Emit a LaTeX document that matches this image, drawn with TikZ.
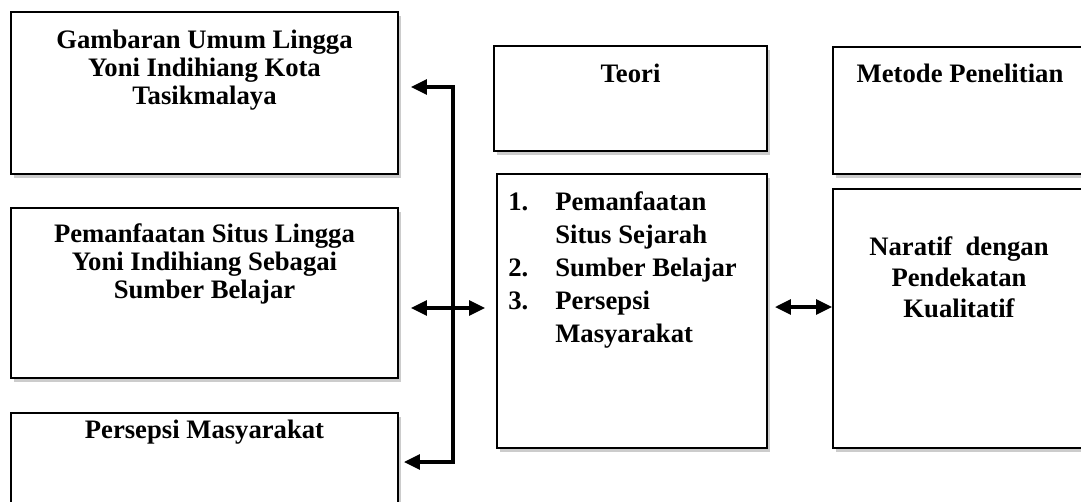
\documentclass[tikz,border=0pt]{standalone}
\usepackage{fontspec}
\setmainfont{Liberation Serif}
\usetikzlibrary{arrows.meta,shadows}
\colorlet{box edge}{black}
\colorlet{box shadow}{black!40}
\tikzset{box/.style={rectangle, draw=box edge, line width=1.4pt, fill=white,
        drop shadow={shadow xshift=2.5pt, shadow yshift=-3pt, fill=box shadow, opacity=0.5}},
    title/.style={font=\bfseries\fontsize{20}{21}\selectfont, align=center, inner sep=0pt, anchor=base},
    link/.style={line width=2.6pt, >={Triangle[length=12pt,width=11pt]}, <->}}

\begin{document}
\begin{tikzpicture}[x=0.75pt, y=-0.75pt]
    \useasboundingbox (0,0) rectangle (1081,501);
    % left column
    \node[box, minimum width=290.25pt, minimum height=121.5pt] (gambaran) at (204.5,93) {};
    \node[box, minimum width=290.25pt, minimum height=127.5pt] (pemanfaatan) at (204.5,293) {};
    \node[box, minimum width=290.25pt, minimum height=121.5pt] (persepsi) at (204.5,494) {};
    % theory and method
    \node[box, minimum width=204.75pt, minimum height=78.75pt] (teori) at (630.5,98.5) {};
    \node[box, minimum width=202.5pt, minimum height=205.5pt] (teorilist) at (632,311) {};
    \node[box, minimum width=190.5pt, minimum height=95.25pt] (metode) at (960,110.5) {};
    \node[box, minimum width=190.5pt, minimum height=194.25pt] (naratif) at (960,318.5) {};

    % base of a node = its last line
    \node[title] (gambaran-text) at (204.5,104) {Gambaran Umum Lingga\\Yoni Indihiang Kota\\Tasikmalaya};
    \node[title] (pemanfaatan-text) at (204.5,298) {Pemanfaatan Situs Lingga\\Yoni Indihiang Sebagai\\Sumber Belajar};
    \node[title] (persepsi-text) at (204.5,438) {Persepsi Masyarakat};
    \node[title] (teori-text) at (630.5,82) {Teori};
    \node[title] (metode-text) at (960,82) {Metode Penelitian};
    \node[title, font=\bfseries\fontsize{20}{24.75}\selectfont, anchor=base west] (teorilist-text) at (508,210)
        {\begin{tabular}[t]{@{}p{35.25pt}@{}l@{}}
            1. & Pemanfaatan\\
               & Situs Sejarah\\
            2. & Sumber Belajar\\
            3. & Persepsi\\
               & Masyarakat
        \end{tabular}};
    \node[title, font=\bfseries\fontsize{20}{23.25}\selectfont] (naratif-text) at (959,317) {Naratif\ \ dengan\\Pendekatan\\Kualitatif};

    % connectors
    \coordinate (hubtop) at (453,87);
    \coordinate (hubmid) at (453,308);
    \coordinate (hubbot) at (453,462);
    \coordinate (bridge) at (800,307);
    \draw[link, shorten <=9pt, shorten >=3.75pt] (gambaran.east |- hubtop) -- (hubtop) -- (hubbot) -- (persepsi.east |- hubbot);
    \draw[link, shorten <=9pt, shorten >=8.25pt] (pemanfaatan.east |- hubmid) -- (teorilist.west |- hubmid);
    \draw[link, shorten <=5.25pt] (teorilist.east |- bridge) -- (naratif.west |- bridge);
\end{tikzpicture}
\end{document}
